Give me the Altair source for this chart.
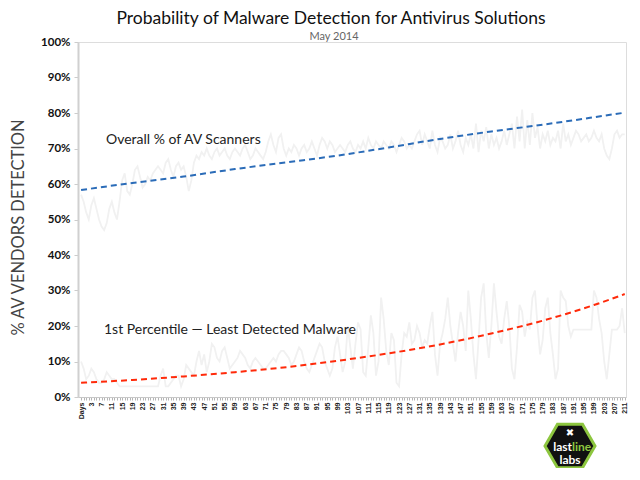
import altair as alt
import pandas as pd

# ---- data ----
overall_raw = [
    57, 55, 52, 50, 54, 56, 53, 50,
    48, 47, 49, 53, 55, 52, 50, 55,
    61, 63, 58, 57, 60, 64, 65, 62,
    59, 60, 62, 61, 63, 64, 65, 64,
    63, 66, 67, 64, 62, 65, 66, 64,
    65, 62, 58, 61, 66, 68, 67, 69,
    68, 70, 68, 67, 69, 70, 68, 69,
    70, 68, 67, 69, 70, 69, 68, 70,
    71, 69, 67, 68, 70, 69, 68, 67,
    69, 72, 74, 71, 69, 73, 74, 70,
    68, 70, 69, 71, 70, 68, 70, 71,
    69, 70, 72, 70, 68, 71, 73, 72,
    70, 72, 71, 69, 70, 71, 70, 69,
    71, 72, 70, 69, 71, 70, 72, 70,
    73, 71, 70, 72, 71, 70, 72, 71,
    70, 72, 71, 69, 71, 73, 72, 70,
    71, 70, 72, 74, 75, 71, 74, 72,
    70, 75, 71, 69, 73, 72, 70, 71,
    74, 70, 72, 75, 71, 69, 73, 71,
    74, 70, 77, 69, 75, 72, 76, 70,
    74, 71, 73, 70, 72, 75, 71, 74,
    77, 70, 79, 72, 81, 70, 78, 71,
    80, 73, 76, 70, 74, 72, 75, 71,
    73, 72, 75, 70, 77, 72, 74, 71,
    73, 75, 74, 72, 73, 74, 72, 73,
    75, 73, 72, 74, 70, 68, 67, 70,
    74, 75, 73, 74, 74,
]

least_raw = [
    10, 8, 5, 6, 8, 7, 5, 4,
    4, 5, 7, 6, 5, 5, 4, 3,
    3, 3, 3, 3, 3, 3, 3, 3,
    3, 3, 3, 3, 3, 3, 3, 6,
    8, 3, 3, 4, 5, 6, 6, 3,
    5, 9, 8, 7, 6, 10, 13, 9,
    12, 7, 10, 15, 14, 11, 10, 13,
    14, 11, 8, 9, 10, 11, 13, 12,
    11, 9, 8, 10, 11, 10, 9, 8,
    8, 9, 10, 11, 10, 12, 13, 13,
    12, 11, 9, 10, 12, 14, 13, 10,
    8, 7, 9, 11, 13, 15, 14, 10,
    8, 6, 8, 14, 17, 12, 7, 10,
    20, 14, 8, 15, 21, 19, 7, 6,
    14, 23, 18, 6, 10, 28, 22, 13,
    9, 18, 16, 4, 3, 12, 18, 17,
    21, 15, 16, 20, 18, 14, 16, 15,
    20, 24, 12, 6, 15, 18, 22, 28,
    20, 15, 10, 18, 24, 20, 13, 30,
    22, 12, 5, 16, 28, 32, 18, 11,
    20, 32, 24, 17, 15, 22, 27, 20,
    8, 5, 14, 26, 24, 17, 21, 19,
    28, 30, 20, 12, 16, 25, 28, 18,
    12, 5, 8, 30, 28, 27, 20, 17,
    19, 19, 19, 19, 19, 19, 19, 19,
    30, 28, 22, 18, 10, 5, 12, 19,
    19, 19, 20, 25, 18,
]

trend_days = [0, 20, 40, 60, 80, 100, 120, 140, 160, 180, 200, 212]
overall_trend = [58.3, 60.3, 62.1, 64.2, 66.1, 68.0, 70.3, 72.7, 74.8, 76.7, 78.8, 80.1]
least_trend = [4.0, 4.8, 5.8, 7.0, 8.4, 10.2, 12.3, 14.8, 17.9, 21.5, 25.9, 29.0]

title_text = "Probability of Malware Detection for Antivirus Solutions"
subtitle_text = "May 2014"
y_title = "% AV VENDORS DETECTION"
label_overall = "Overall % of AV Scanners"
label_least = "1st Percentile \u2014 Least Detected Malware"
y_ticks = [0, 10, 20, 30, 40, 50, 60, 70, 80, 90, 100]

days = list(range(len(overall_raw)))

raw_df = pd.DataFrame({
    "day": days + days,
    "pct": overall_raw + least_raw,
    "series": ["overall"] * len(days) + ["least"] * len(days),
})
trend_df = pd.DataFrame({
    "day": trend_days + trend_days,
    "pct": overall_trend + least_trend,
    "series": ["overall"] * len(trend_days) + ["least"] * len(trend_days),
})

x_axis = alt.Axis(
    values=days,
    labelExpr="datum.value % 4 == 0 ? (datum.value == 0 ? 'Days' : toString(datum.value - 1)) : ''",
    labelAngle=270,
    labelFont="Liberation Sans",
    labelFontSize=7,
    labelFontWeight="bold",
    labelColor="#222",
    labelOverlap=False,
    labelFlush=False,
    labelPadding=2,
    tickSize=3,
    tickColor="#b5b5b5",
    domainColor="#c8c8c8",
    grid=False,
    title=None,
)
y_axis = alt.Axis(
    values=y_ticks,
    labelExpr="datum.value + '%'",
    labelFont="Lato",
    labelFontSize=11.5,
    labelFontWeight="bold",
    labelColor="#111",
    labelOverlap=False,
    labelPadding=4,
    tickSize=4,
    tickColor="#cccccc",
    domainColor="#d0d0d0",
    domainWidth=2,
    grid=False,
    title=y_title,
    titleFont="Lato",
    titleFontSize=16.5,
    titleFontWeight="normal",
    titleColor="#444",
    titleAngle=270,
    titleX=-60,
    titleY=185,
    titleBaseline="middle",
)
x_scale = alt.Scale(domain=[-1.2, 212.5], nice=False, zero=False)
y_scale = alt.Scale(domain=[0, 100], nice=False)

gray = alt.Chart(raw_df).mark_line(color="#f1f1f1", strokeWidth=1.8).encode(
    x=alt.X("day:Q", scale=x_scale, axis=x_axis),
    y=alt.Y("pct:Q", scale=y_scale, axis=y_axis),
    detail="series:N",
)

trend = alt.Chart(trend_df).mark_line(
    strokeWidth=2, strokeDash=[6, 4], interpolate="monotone"
).encode(
    x=alt.X("day:Q", scale=x_scale, axis=x_axis),
    y=alt.Y("pct:Q", scale=y_scale, axis=y_axis),
    color=alt.Color(
        "series:N",
        scale=alt.Scale(domain=["overall", "least"], range=["#2b6cb8", "#ff2a0a"]),
        legend=None,
    ),
)

def text_layer(txt, x, y, size, color="#222", weight="normal", align="left", font="Lato"):
    return alt.Chart(pd.DataFrame({"t": [txt]})).mark_text(
        font=font, fontSize=size, fontWeight=weight, color=color, align=align, baseline="middle"
    ).encode(text="t:N", x=alt.value(x), y=alt.value(y))

title_l = text_layer(title_text, 253, -23, 17.5, color="#111", align="center")
subtitle_l = text_layer(subtitle_text, 256, -5, 11, color="#666", align="center")
ann1 = text_layer(label_overall, 28, 98, 14, color="#222")
ann2 = text_layer(label_least, 26, 288, 14, color="#222")

hexagon = alt.Chart(pd.DataFrame({"k": [1]})).mark_point(
    shape="M -1 0 L -0.5 -0.866 L 0.5 -0.866 L 1 0 L 0.5 0.866 L -0.5 0.866 Z",
    filled=True, fill="#111", stroke="#8dc63f", strokeWidth=3, opacity=1, size=2500,
).encode(x=alt.value(492), y=alt.value(404))

logo_last = text_layer("last", 494, 405, 12, color="white", weight="bold", align="right")
logo_line = text_layer("line", 494, 405, 12, color="#8dc63f", weight="bold", align="left")
logo_labs = text_layer("labs", 492, 418, 12, color="white", weight="bold", align="center")
logo_icon = text_layer("\u2716", 492, 391, 10, color="white", weight="bold", align="center", font="DejaVu Sans")

chart = alt.layer(
    gray, trend, title_l, subtitle_l, ann1, ann2,
    hexagon, logo_last, logo_line, logo_labs, logo_icon,
).properties(
    width=548,
    height=355,
    padding={"left": 70, "top": 34, "right": 6, "bottom": 71},
    autosize=alt.AutoSizeParams(type="none"),
).configure_view(stroke=None).configure_axis(labelOverlap=False).configure(background="white")

chart.save("out.html", embed_options={"renderer": "svg", "actions": False})
